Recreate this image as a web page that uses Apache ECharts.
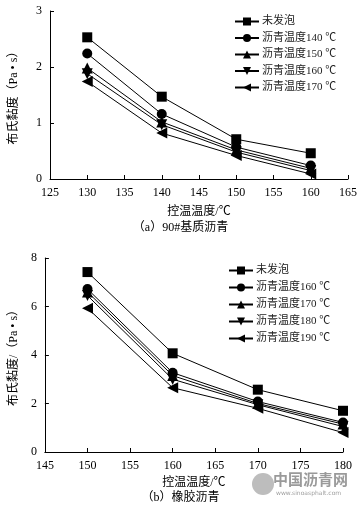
<!DOCTYPE html>
<html><head><meta charset="utf-8">
<script src="https://cdn.jsdelivr.net/npm/echarts@6/dist/echarts.min.js"></script>
<style>html,body{margin:0;padding:0;background:#fff;}#a{position:absolute;left:0;top:0;width:361px;height:240px;}#b{position:absolute;left:0;top:240px;width:361px;height:276px;}</style>
</head><body><div id="a"></div><div id="b"></div>
<script>
// Chart (a) 90# base asphalt
const xA = [130, 140, 150, 160];
const namesA = ['未发泡', '沥青温度140 ℃', '沥青温度150 ℃', '沥青温度160 ℃', '沥青温度170 ℃'];
const a0 = [2.53, 1.47, 0.71, 0.46];
const a1 = [2.24, 1.16, 0.57, 0.24];
const a2 = [1.98, 1.02, 0.52, 0.19];
const a3 = [1.88, 0.97, 0.48, 0.15];
const a4 = [1.74, 0.82, 0.42, 0.09];
// Chart (b) rubber asphalt
const xB = [150, 160, 170, 180];
const namesB = ['未发泡', '沥青温度160 ℃', '沥青温度170 ℃', '沥青温度180 ℃', '沥青温度190 ℃'];
const b0 = [7.42, 4.07, 2.57, 1.70];
const b1 = [6.72, 3.27, 2.08, 1.22];
const b2 = [6.60, 3.15, 2.00, 1.15];
const b3 = [6.45, 3.00, 1.95, 1.05];
const b4 = [5.93, 2.65, 1.80, 0.80];

const symbols = ['rect', 'circle', 'triangle', 'triangle', 'triangle'];
const rotates = [0, 0, 0, 180, 90];
const sizes = [10, 10, 11, 11, 11];
const FONT = "'Liberation Serif','Noto Sans CJK SC',serif";

function mkSeries(names, xs, arrs) {
  return arrs.map((arr, i) => ({
    name: names[i], type: 'line',
    data: xs.map((x, j) => [x, arr[j]]),
    symbol: symbols[i], symbolRotate: rotates[i], symbolSize: sizes[i],
    lineStyle: { color: '#000', width: 1 },
    itemStyle: { color: '#000' },
    animation: false
  }));
}
function axisCommon() {
  return {
    axisLine: { show: true, lineStyle: { color: '#000', width: 1 } },
    axisTick: { show: true, inside: true, length: 4, lineStyle: { color: '#000' } },
    axisLabel: { color: '#000', fontSize: 12, fontFamily: FONT },
    splitLine: { show: false },
    nameTextStyle: { color: '#000', fontSize: 12, fontFamily: FONT }
  };
}
function mkOption(cfg) {
  return {
    backgroundColor: '#fff',
    animation: false,
    grid: cfg.grid,
    xAxis: Object.assign(axisCommon(), {
      type: 'value', min: cfg.xmin, max: cfg.xmax, interval: 5,
      name: '控温温度/℃', nameLocation: 'middle', nameGap: cfg.xgap
    }),
    yAxis: Object.assign(axisCommon(), {
      type: 'value', min: 0, max: cfg.ymax, interval: cfg.yint,
      name: cfg.yname, nameLocation: 'middle', nameGap: cfg.ygap, nameRotate: 90
    }),
    legend: {
      orient: 'vertical', left: cfg.legLeft, top: cfg.legTop,
      itemWidth: 24, itemHeight: 10, itemGap: cfg.legGap,
      textStyle: { color: '#222', fontSize: 11, fontFamily: FONT, padding: [0, 0, 0, -2] },
      data: cfg.names
    },
    title: {
      text: cfg.caption, left: 'center', top: cfg.capTop,
      textStyle: { color: '#000', fontSize: 12, fontWeight: 'normal', fontFamily: FONT },
      padding: 0
    },
    graphic: cfg.graphic || [],
    series: mkSeries(cfg.names, cfg.xs, cfg.arrs)
  };
}
const ca = echarts.init(document.getElementById('a'));
ca.setOption(mkOption({
  grid: { left: 46, right: 13, top: 11, bottom: 61 },
  xmin: 125, xmax: 165, ymax: 3, yint: 1, xgap: 27,
  yname: '布氏黏度（Pa • s）', ygap: 30,
  legLeft: 229, legTop: 11, legGap: 5.5,
  names: namesA, xs: xA, arrs: [a0, a1, a2, a3, a4],
  caption: '（a）90#基质沥青', capTop: 222
}));
const cb = echarts.init(document.getElementById('b'));
cb.setOption(mkOption({
  grid: { left: 36, right: 18, top: 18, bottom: 64 },
  xmin: 145, xmax: 180, ymax: 8, yint: 2, xgap: 22,
  yname: '布氏黏度/（Pa • s）', ygap: 22,
  legLeft: 223, legTop: 20, legGap: 6,
  names: namesB, xs: xB, arrs: [b0, b1, b2, b3, b4],
  caption: '（b）橡胶沥青', capTop: 252,
  graphic: [
    { type: 'circle', shape: { cx: 263, cy: 244, r: 11 }, style: { fill: '#bdbdbd' } },
    { type: 'text', left: 273, top: 232, style: { text: '中国沥青网', fill: '#9a9a9a', font: "bold 15px 'Noto Sans CJK SC'" } },
    { type: 'text', left: 276, top: 250, style: { text: 'www.sinoasphalt.com', fill: '#a0a0a0', font: "6px 'DejaVu Sans'" } }
  ]
}));
</script></body></html>
